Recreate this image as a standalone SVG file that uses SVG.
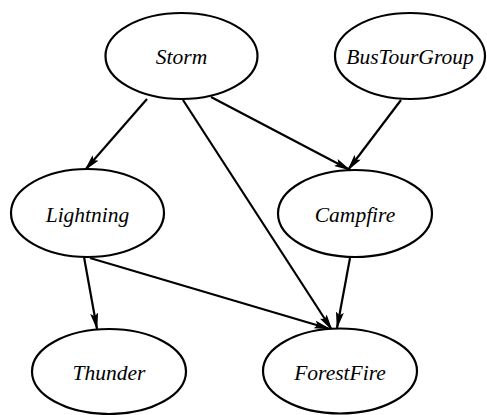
<svg xmlns="http://www.w3.org/2000/svg" width="487" height="415" viewBox="0 0 487 415">
<style>
.node ellipse{fill:#fff;stroke:#000;stroke-width:2.2}
.node text{font-family:"Liberation Serif","Times New Roman",serif;font-style:italic;font-size:21.5px;fill:#000;text-anchor:middle}
.edges line{stroke:#000;stroke-width:2.2;fill:none}
</style>
<defs>
<marker id="arr" markerUnits="userSpaceOnUse" markerWidth="17" markerHeight="8" refX="16" refY="4" orient="auto" viewBox="0 0 17 8">
<path d="M0,0 L17,4 L0,8 L3,4 Z" fill="#000"/>
</marker>
</defs>
<rect width="487" height="415" fill="#fff"/>
<g class="edges">
<line x1="147" y1="99" x2="85" y2="170" marker-end="url(#arr)"/>
<line x1="183" y1="100" x2="332" y2="330" marker-end="url(#arr)"/>
<line x1="211" y1="97" x2="350" y2="170" marker-end="url(#arr)"/>
<line x1="401" y1="100" x2="348" y2="170" marker-end="url(#arr)"/>
<line x1="84" y1="257" x2="97" y2="329" marker-end="url(#arr)"/>
<line x1="90" y1="258" x2="330" y2="329" marker-end="url(#arr)"/>
<line x1="350" y1="258" x2="337" y2="328" marker-end="url(#arr)"/>
</g>
<g id="storm" class="node"><ellipse cx="181.5" cy="56" rx="76" ry="43"/><text x="181.5" y="64">Storm</text></g>
<g id="bustourgroup" class="node"><ellipse cx="410" cy="56" rx="75" ry="43"/><text x="410" y="64">BusTourGroup</text></g>
<g id="lightning" class="node"><ellipse cx="87.5" cy="213" rx="76.5" ry="44"/><text x="87.5" y="222">Lightning</text></g>
<g id="campfire" class="node"><ellipse cx="355" cy="213.5" rx="77" ry="43.5"/><text x="355" y="222">Campfire</text></g>
<g id="thunder" class="node"><ellipse cx="109" cy="371.5" rx="77" ry="42.5"/><text x="109" y="380">Thunder</text></g>
<g id="forestfire" class="node"><ellipse cx="340" cy="371" rx="77" ry="42.5"/><text x="340" y="380">ForestFire</text></g>
</svg>
